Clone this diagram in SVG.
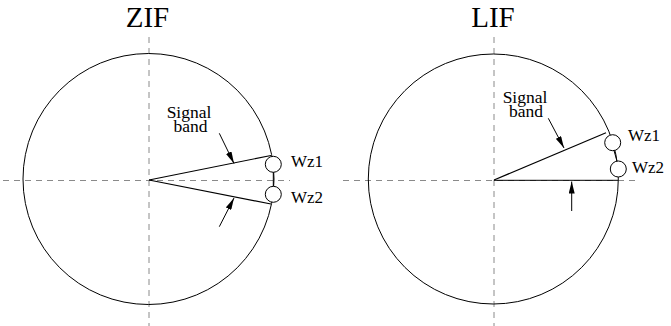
<svg xmlns="http://www.w3.org/2000/svg" width="671" height="326" viewBox="0 0 671 326">
<style>
.axis{stroke:#8a8a8a;stroke-width:1;stroke-dasharray:6 5;fill:none}
.circ{stroke:#000;stroke-width:1;fill:none}
.ln{stroke:#000;stroke-width:1.2;fill:none}
.zc{stroke:#000;stroke-width:1;fill:#fff}
.arr{stroke:#000;stroke-width:1;fill:none;marker-end:url(#ah)}
.t{font-family:"Liberation Serif",serif;fill:#000}
.title{font-size:29px;text-anchor:middle}
.lbl{font-size:17.5px;text-anchor:middle}
.wz{font-size:17px}
</style>
<defs>
<marker id="ah" viewBox="0 0 12 6" refX="12" refY="3" markerWidth="12" markerHeight="6" markerUnits="userSpaceOnUse" orient="auto">
<path d="M0,0 L12,3 L0,6 z" fill="#000"/>
</marker>
</defs>
<g id="zif">
<text class="t title" x="147.5" y="26.5">ZIF</text>
<line class="axis" x1="3" y1="180.5" x2="290" y2="180.5"/>
<line class="axis" x1="149" y1="37" x2="149" y2="326"/>
<circle class="circ" cx="148.5" cy="179" r="125.5"/>
</g>
<g id="lif">
<text class="t title" x="493" y="26.5">LIF</text>
<line class="axis" x1="343" y1="180.5" x2="637" y2="180.5"/>
<line class="axis" x1="494" y1="37" x2="494" y2="326"/>
<circle class="circ" cx="493.3" cy="179" r="125"/>
</g>
<g id="connectors">
<line class="ln" x1="149" y1="180" x2="271" y2="155.5"/>
<line class="ln" x1="149" y1="180" x2="271" y2="204"/>
<line class="circ" x1="273.3" y1="172" x2="273.3" y2="186.5"/>
<line class="arr" x1="219.3" y1="133.3" x2="234" y2="163.5"/>
<line class="arr" x1="219.3" y1="226.7" x2="234" y2="198"/>
<line class="ln" x1="494" y1="180" x2="606" y2="132.7"/>
<line class="circ" x1="494" y1="180.3" x2="618" y2="180.3" stroke="#555"/>
<line class="circ" x1="614" y1="150.5" x2="617" y2="161.2"/>
<line class="arr" x1="548.3" y1="118.3" x2="564" y2="148"/>
<line class="arr" x1="571.7" y1="211" x2="571.7" y2="181.5"/>
</g>
<g id="wz1-zif"><circle class="zc" cx="273.3" cy="164.3" r="8"/><text class="t wz" x="291" y="167">Wz1</text></g>
<g id="wz2-zif"><circle class="zc" cx="273.3" cy="194.3" r="8"/><text class="t wz" x="291" y="203">Wz2</text></g>
<g id="sb-zif"><text class="t lbl" x="189" y="117.5">Signal</text><text class="t lbl" x="190.5" y="132">band</text></g>
<g id="wz1-lif"><circle class="zc" cx="612.7" cy="142.7" r="8"/><text class="t wz" x="628" y="140.5">Wz1</text></g>
<g id="wz2-lif"><circle class="zc" cx="618.3" cy="169" r="8"/><text class="t wz" x="632" y="173">Wz2</text></g>
<g id="sb-lif"><text class="t lbl" x="525" y="102.5">Signal</text><text class="t lbl" x="526" y="117">band</text></g>
</svg>
